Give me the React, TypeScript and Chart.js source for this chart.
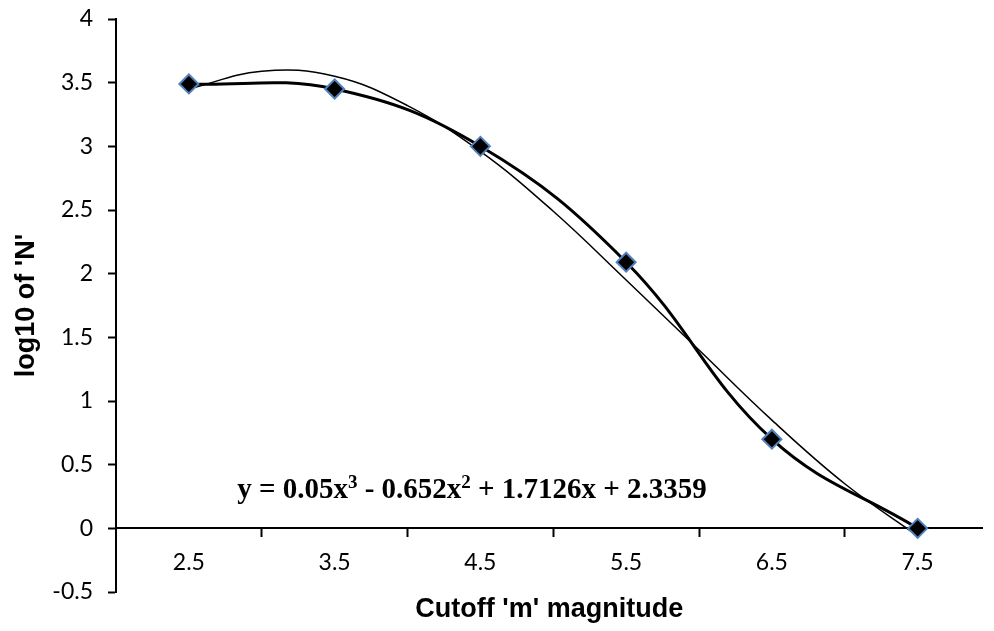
import React, { useEffect, useRef } from 'react';
import { Chart, registerables } from 'chart.js';

Chart.register(...registerables);

// Data
const magnitudes = [2.5, 3.5, 4.5, 5.5, 6.5, 7.5];
const logN = [3.49, 3.45, 3.0, 2.09, 0.7, 0.0];

// Polynomial trendline
const trendX = [2.5, 3.0, 3.5, 4.0, 4.5, 5.0, 5.5, 6.0, 6.5, 7.0, 7.5];
const trendY = [3.45, 3.59, 3.55, 3.32, 2.96, 2.49, 1.95, 1.4, 0.85, 0.35, -0.06];

const xTickValues = [2.5, 3, 3.5, 4, 4.5, 5, 5.5, 6, 6.5, 7, 7.5];
// Equation pieces: [text, isSuperscript]
const equationParts: [string, boolean][] = [
  ['y = 0.05x', false],
  ['3', true],
  [' - 0.652x', false],
  ['2', true],
  [' + 1.7126x + 2.3359', false],
];
const xTitle = "Cutoff 'm' magnitude";
const yTitle = "log10 of 'N'";

const equationPlugin = {
  id: 'equationLabel',
  afterDatasetsDraw(chart: any) {
    const { ctx, chartArea } = chart;
    const mainFont = 'bold 29px "Liberation Serif", "Times New Roman", serif';
    const supFont = 'bold 19px "Liberation Serif", "Times New Roman", serif';
    ctx.save();
    ctx.fillStyle = '#000';
    ctx.textAlign = 'left';
    ctx.textBaseline = 'alphabetic';
    let total = 0;
    for (const [t, sup] of equationParts) {
      ctx.font = sup ? supFont : mainFont;
      total += ctx.measureText(t).width;
    }
    const cx = chartArea.left + 356;
    const baseY = chartArea.top + 479;
    let x = cx - total / 2;
    for (const [t, sup] of equationParts) {
      ctx.font = sup ? supFont : mainFont;
      ctx.fillText(t, x, sup ? baseY - 10 : baseY);
      x += ctx.measureText(t).width;
    }
    ctx.restore();
  },
};

export default function App() {
  const ref = useRef<HTMLCanvasElement | null>(null);

  useEffect(() => {
    if (!ref.current) return;
    const chart = new Chart(ref.current, {
      type: 'line',
      data: {
        datasets: [
          {
            label: 'Trend',
            data: trendX.map((x, i) => ({ x, y: trendY[i] })),
            borderColor: '#000',
            borderWidth: 1.5,
            pointRadius: 0,
            tension: 0.4,
            fill: false,
            order: 2,
          },
          {
            label: 'log10 N',
            data: magnitudes.map((x, i) => ({ x, y: logN[i] })),
            borderColor: '#000',
            borderWidth: 3,
            tension: 0.4,
            pointStyle: 'rectRot',
            pointRadius: 9.5,
            pointBackgroundColor: '#000',
            pointBorderColor: '#4F81BD',
            pointBorderWidth: 2,
            fill: false,
            order: 1,
          },
        ],
      },
      options: {
        responsive: false,
        animation: false,
        layout: { padding: { left: 0, right: 0, top: 19, bottom: 39 } },
        plugins: {
          legend: { display: false },
          tooltip: { enabled: false },
        },
        scales: {
          x: {
            type: 'linear',
            position: { y: 0 } as any,
            min: 2,
            max: 7.945,
            afterBuildTicks: (s: any) => {
              s.ticks = xTickValues.map((v) => ({ value: v }));
            },
            afterFit: (s: any) => {
              s.height = 97;
              s.paddingLeft = 0;
              s.paddingRight = 0;
            },
            ticks: {
              autoSkip: false,
              maxRotation: 0,
              padding: 12,
              color: '#000',
              font: { family: 'Lato', size: 23 },
              callback: (v: any) => (Number.isInteger(v) ? '' : String(v)),
            },
            grid: {
              drawOnChartArea: false,
              drawTicks: true,
              tickLength: 8,
              tickWidth: 2,
              tickColor: (c: any) =>
                c.tick && Number.isInteger(c.tick.value) ? '#000' : 'rgba(0,0,0,0)',
            },
            border: { display: true, color: '#000', width: 2 },
            title: {
              display: true,
              text: xTitle,
              color: '#000',
              font: { family: '"Liberation Sans", Arial, sans-serif', size: 27, weight: 'bold' },
              padding: 0,
            },
          },
          y: {
            type: 'linear',
            min: -0.5,
            max: 4,
            afterFit: (s: any) => {
              s.width = 116;
              s.paddingTop = 0;
              s.paddingBottom = 0;
            },
            ticks: {
              stepSize: 0.5,
              padding: 15,
              color: '#000',
              font: { family: 'Lato', size: 23 },
              callback: (v: any) => String(v),
            },
            grid: {
              drawOnChartArea: false,
              drawTicks: true,
              tickLength: 8,
              tickWidth: 2,
              tickColor: '#000',
            },
            border: { display: true, color: '#000', width: 2 },
            title: {
              display: true,
              text: yTitle,
              color: '#000',
              font: { family: '"Liberation Sans", Arial, sans-serif', size: 27, weight: 'bold' },
              padding: { top: 10, bottom: 0 },
            },
          },
        },
      },
      plugins: [equationPlugin],
    });
    return () => chart.destroy();
  }, []);

  return (
    <div style={{ position: 'fixed', left: 0, top: 0, width: 994, height: 631, background: '#fff' }}>
      <canvas ref={ref} width={994} height={631} style={{ display: 'block' }} />
    </div>
  );
}
